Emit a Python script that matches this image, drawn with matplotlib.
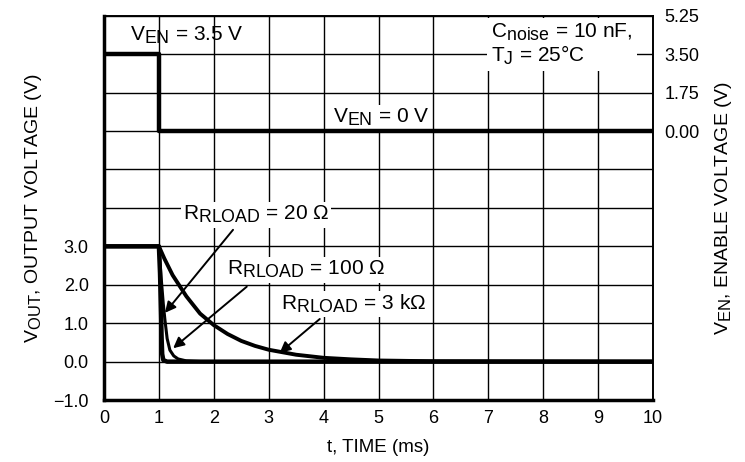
import matplotlib
matplotlib.use('Agg')
import matplotlib.pyplot as plt
import matplotlib._mathtext as mathtext_mod
import numpy as np

plt.rcParams['font.family'] = ['Liberation Sans', 'DejaVu Sans']
plt.rcParams['mathtext.fontset'] = 'custom'
plt.rcParams['mathtext.rm'] = 'Liberation Sans'
plt.rcParams['mathtext.it'] = 'Liberation Sans:italic'
# subscripts in the original are only a little smaller than the main text
mathtext_mod.SHRINK_FACTOR = 0.85

# enable voltage (right axis)
t_en = [0, 1.0, 1.0, 10]
v_en = [3.5, 3.5, 0.0, 0.0]

# output voltage curves (left axis)
t_20 = [0, 1.0, 1.02, 1.04, 1.05, 1.06, 1.08, 1.15, 10]
v_20 = [3.0, 3.0, 2.3, 1.2, 0.6, 0.2, 0.04, 0.0, 0.0]

t_100 = [0, 1.0, 1.04, 1.08, 1.11, 1.15, 1.2, 1.27, 1.35, 1.5, 1.8, 10]
v_100 = [3.0, 3.0, 2.2, 1.5, 1.08, 0.6, 0.3, 0.15, 0.07, 0.02, 0.0, 0.0]

t_3k = [0, 1.0, 1.1, 1.25, 1.5, 1.75, 2.0, 2.25, 2.5, 2.75, 3.0, 3.5, 4.0, 4.5, 5.0, 6.0, 10]
v_3k = [3.0, 3.0, 2.68, 2.25, 1.7, 1.25, 0.95, 0.72, 0.54, 0.41, 0.31, 0.18, 0.1, 0.06, 0.03, 0.01, 0.0]

x_ticks = list(range(0, 11))
left_ticks = list(range(-1, 10))
left_labels = ['\u22121.0', '0.0', '1.0', '2.0', '3.0', '', '', '', '', '', '']
right_ticks = [0.0, 1.75, 3.5, 5.25]
right_labels = ['0.00', '1.75', '3.50', '5.25']

fig = plt.figure(figsize=(7.45, 4.62), dpi=100)
ax = fig.add_axes([0.1396, 0.134, 0.737, 0.832])
ax2 = ax.twinx()

ax.set_xlim(0, 10)
ax.set_ylim(-1, 9)
ax2.set_ylim(-12.25, 5.25)

ax.set_xticks(x_ticks)
ax.set_yticks(left_ticks)
ax.set_yticklabels(left_labels)
ax2.set_yticks(right_ticks)
ax2.set_yticklabels(right_labels)

ax.grid(True, color='black', lw=1.0)
ax.set_axisbelow(True)
ax.tick_params(axis='x', length=0, labelsize=13, pad=7)
ax.tick_params(axis='y', length=0, labelsize=13, pad=11)
ax2.tick_params(length=0, labelsize=13, pad=8)

for s in ['left', 'bottom']:
    ax.spines[s].set_linewidth(2.5)
for s in ['top', 'right']:
    ax.spines[s].set_linewidth(1.2)
ax2.spines['right'].set_linewidth(1.2)
ax2.spines['top'].set_linewidth(1.2)

ax.plot(t_3k, v_3k, color='black', lw=2.8, zorder=3)
ax.plot(t_100, v_100, color='black', lw=2.2, zorder=3)
ax.plot(t_20, v_20, color='black', lw=3.2, zorder=3)
ax2.plot(t_en, v_en, color='black', lw=3.2, zorder=3)

ax.set_xlabel('t, TIME (ms)', fontsize=13.5, labelpad=9)
ax.set_ylabel(r'V$_{\mathrm{OUT}}$, OUTPUT VOLTAGE (V)', fontsize=14, labelpad=7)
ax2.set_ylabel(r'V$_{\mathrm{EN}}$, ENABLE VOLTAGE (V)', fontsize=14, labelpad=10)

box = dict(facecolor='white', edgecolor='none', pad=1.5)
fs = 15

ax.text(1.51, 8.5, r'V$_{\mathrm{EN}}$ = 3.5 V', fontsize=fs, ha='center', va='center', zorder=5)
ax.text(5.05, 6.35, r'V$_{\mathrm{EN}}$ = 0 V', fontsize=fs, ha='center', va='center', bbox=box, zorder=5)
ax.text(7.05, 8.25, 'C$_{\\mathrm{noise}}$ = 10 nF,\nT$_{\\mathrm{J}}$ = 25\u00b0C', fontsize=fs,
        ha='left', va='center', linespacing=1.05, bbox=dict(facecolor='white', edgecolor='none', pad=3), zorder=5)

ax.text(2.77, 3.82, r'R$_{\mathrm{RLOAD}}$ = 20 $\Omega$', fontsize=fs, ha='center', va='center', bbox=box, zorder=5)
ax.text(3.68, 2.39, r'R$_{\mathrm{RLOAD}}$ = 100 $\Omega$', fontsize=fs, ha='center', va='center', bbox=box, zorder=5)
ax.text(4.54, 1.5, r'R$_{\mathrm{RLOAD}}$ = 3 k$\Omega$', fontsize=fs, ha='center', va='center', bbox=box, zorder=5)

arrow = dict(arrowstyle='-|>', color='black', lw=1.4, mutation_scale=16, shrinkA=0, shrinkB=0)
ax.annotate('', xy=(1.11, 1.27), xytext=(2.35, 3.43), arrowprops=arrow, zorder=6)
ax.annotate('', xy=(1.26, 0.35), xytext=(2.6, 1.95), arrowprops=arrow, zorder=6)
ax.annotate('', xy=(3.2, 0.23), xytext=(3.93, 1.11), arrowprops=arrow, zorder=6)

plt.savefig('out.png', dpi=100)
